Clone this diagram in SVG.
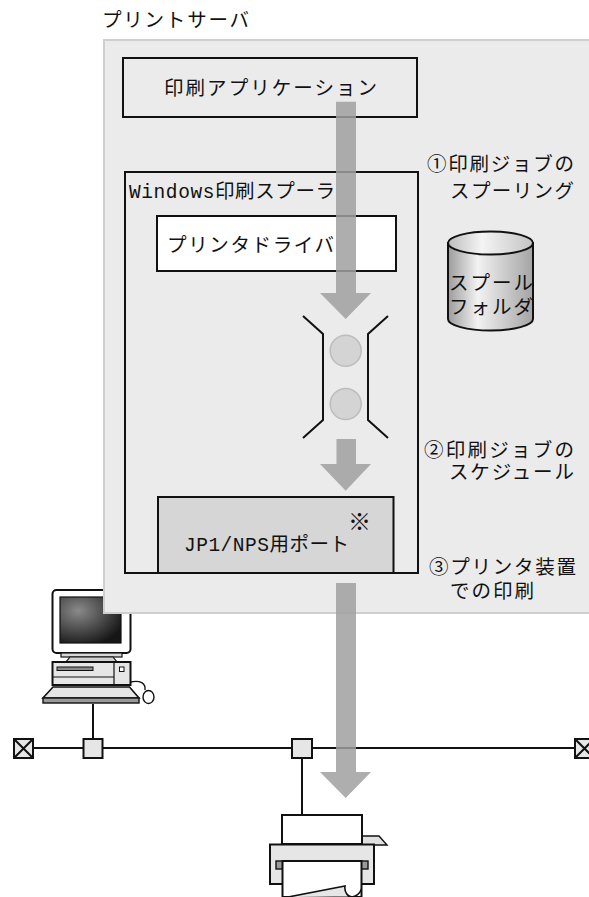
<svg xmlns="http://www.w3.org/2000/svg" width="589" height="897" viewBox="0 0 589 897">
  <style>
    .t { font-family: "Liberation Mono", "Noto Sans CJK JP", monospace; font-size: 19.5px; fill: #111; }
    .box { stroke: #111; stroke-width: 2; }
    .ln { stroke: #111; stroke-width: 2; fill: none; }
    .flow { fill: #a0a0a0; opacity: 0.85; }
  </style>
  <defs>
    <linearGradient id="cyl" x1="0" y1="0" x2="1" y2="0">
      <stop offset="0" stop-color="#9c9c9c"/>
      <stop offset="0.35" stop-color="#f2f2f2"/>
      <stop offset="1" stop-color="#a4a4a4"/>
    </linearGradient>
    <linearGradient id="cyltop" x1="0" y1="0" x2="1" y2="0">
      <stop offset="0" stop-color="#bdbdbd"/>
      <stop offset="0.4" stop-color="#f4f4f4"/>
      <stop offset="1" stop-color="#c4c4c4"/>
    </linearGradient>
    <radialGradient id="screen" cx="0.3" cy="0.3" r="0.8">
      <stop offset="0" stop-color="#8a8a8a"/>
      <stop offset="1" stop-color="#151515"/>
    </radialGradient>
  </defs>

  <!-- client PC -->
  <g id="client-pc">
    <rect x="52.5" y="590" width="78" height="63" rx="4" fill="#fff" class="box"/>
    <rect x="60" y="597" width="61" height="46" fill="url(#screen)" stroke="#111" stroke-width="1.2"/>
    <rect x="61" y="653" width="61" height="4" fill="#d8d8d8" stroke="#111" stroke-width="1.2"/>
    <polygon points="70,657 113,657 117,662 66,662" fill="#cfcfcf" stroke="#111" stroke-width="1.2"/>
    <rect x="52.5" y="662" width="78" height="23" fill="#e6e6e6" class="box"/>
    <line x1="52.5" y1="677" x2="114" y2="677" stroke="#111" stroke-width="1.2"/>
    <line x1="114" y1="662" x2="114" y2="685" stroke="#111" stroke-width="1.2"/>
    <rect x="57" y="667" width="36" height="3.5" fill="#8a8a8a" stroke="#111" stroke-width="1"/>
    <rect x="119.5" y="667" width="4.5" height="4.5" fill="#fff" stroke="#111" stroke-width="1"/>
    <polygon points="53,687 129.5,687 139,698 43,698" fill="#e6e6e6" stroke="#111" stroke-width="1.6"/>
    <rect x="43" y="698" width="96" height="5" fill="#9a9a9a" stroke="#111" stroke-width="1.4"/>
    <path d="M130.5,682 C140,680 146,683 145,690" fill="none" stroke="#111" stroke-width="1.4"/>
    <ellipse cx="148.5" cy="697" rx="5.5" ry="6.5" fill="#fff" stroke="#111" stroke-width="1.4"/>
  </g>

  <!-- print server panel -->
  <g id="print-server">
    <rect x="104" y="40" width="500" height="573" fill="#ebebeb" stroke="#cfcfcf" stroke-width="2"/>
    <text class="t" x="102" y="27" textLength="147" lengthAdjust="spacing">プリントサーバ</text>
  </g>

  <g id="print-application">
    <rect x="123" y="58" width="294" height="59" fill="#ebebeb" class="box"/>
    <text class="t" x="164" y="95" textLength="213" lengthAdjust="spacing">印刷アプリケーション</text>
  </g>

  <g id="windows-spooler">
    <rect x="125" y="172" width="293" height="401" fill="none" class="box"/>
    <text class="t" x="129" y="197.5" textLength="206" lengthAdjust="spacing">Windows印刷スプーラ</text>
  </g>

  <g id="printer-driver">
    <rect x="157" y="216" width="239" height="55" fill="#fff" class="box"/>
    <text class="t" x="167" y="251.5" textLength="167" lengthAdjust="spacing">プリンタドライバ</text>
  </g>

  <g id="spool-folder">
    <path d="M448,243 L448,319 A42.5,11.5 0 0 0 533,319 L533,243 Z" fill="url(#cyl)" class="box"/>
    <ellipse cx="490.5" cy="243" rx="42.5" ry="11.5" fill="url(#cyltop)" class="box"/>
    <text class="t" x="449" y="290" textLength="84" lengthAdjust="spacing">スプール</text>
    <text class="t" x="449" y="314" textLength="84" lengthAdjust="spacing">フォルダ</text>
  </g>

  <g id="job-queue">
    <polyline class="ln" points="303,316 323,334 323,420 303,438"/>
    <polyline class="ln" points="388,316 368,334 368,420 388,438"/>
    <circle cx="345.7" cy="350.7" r="15.5" fill="#d4d4d4" stroke="#bcbcbc" stroke-width="1.5"/>
    <circle cx="345.7" cy="404" r="15.5" fill="#d4d4d4" stroke="#bcbcbc" stroke-width="1.5"/>
  </g>

  <g id="nps-port">
    <rect x="158" y="497" width="235.5" height="76" fill="#d6d6d6" class="box"/>
    <text class="t" x="184" y="550.5" textLength="165" lengthAdjust="spacing">JP1/NPS用ポート</text>
    <text class="t" x="348" y="529.5" style="font-size:23px">※</text>
  </g>

  <!-- step labels -->
  <g id="step-labels">
    <text class="t" x="427" y="170.5" textLength="147" lengthAdjust="spacing">①印刷ジョブの</text>
    <text class="t" x="450" y="197.5" textLength="124" lengthAdjust="spacing">スプーリング</text>
    <text class="t" x="424" y="457" textLength="150" lengthAdjust="spacing">②印刷ジョブの</text>
    <text class="t" x="449" y="478.5" textLength="125" lengthAdjust="spacing">スケジュール</text>
    <text class="t" x="429" y="574" textLength="147" lengthAdjust="spacing">③プリンタ装置</text>
    <text class="t" x="450" y="598" textLength="84" lengthAdjust="spacing">での印刷</text>
  </g>

  <!-- network -->
  <g id="connectors">
    <line class="ln" x1="33" y1="748" x2="575" y2="748"/>
    <line class="ln" x1="93" y1="704" x2="93" y2="739"/>
    <line class="ln" x1="302" y1="758" x2="302" y2="815"/>
    <!-- print job flow -->
    <path class="flow" d="M336,101.7 H356 V293 H371 L345.7,319 L320,293 H336 Z"/>
    <path class="flow" d="M336.5,439 H356 V464 H371 L345.7,490.7 L320,464 H336.5 Z"/>
    <path class="flow" d="M336,583 H356 V772 H371 L345.7,798 L320,772 H336 Z"/>
  </g>

  <g id="terminator-left">
    <rect x="14" y="739" width="19" height="19" fill="#e6e6e6" class="box"/>
    <path class="ln" d="M14,739 L33,758 M33,739 L14,758" stroke-width="1.6"/>
  </g>
  <g id="terminator-right">
    <rect x="575" y="739" width="19" height="19" fill="#e6e6e6" class="box"/>
    <path class="ln" d="M575,739 L594,758 M594,739 L575,758" stroke-width="1.6"/>
  </g>
  <g id="hub-pc">
    <rect x="83.5" y="739" width="19" height="19" fill="#e6e6e6" class="box"/>
  </g>
  <g id="hub-printer">
    <rect x="292" y="739" width="20" height="19" fill="#e6e6e6" class="box"/>
  </g>

  <!-- printer -->
  <g id="printer">
    <polygon points="361,836 379,836 387,845 361,845" fill="#e0e0e0" stroke="#111" stroke-width="1.4"/>
    <rect x="282" y="815" width="80" height="29" fill="#fff" class="box"/>
    <rect x="270" y="844.5" width="104" height="39.5" fill="#e6e6e6" class="box"/>
    <rect x="276" y="861" width="92" height="8" fill="#9a9a9a" stroke="#111" stroke-width="1.4"/>
    <path d="M282.5,861 H361.5 V897 H282.5 Z" fill="#fff" stroke="#111" stroke-width="2"/>
    <path d="M283,898 L345,886 C344,892 348,897 352,897 L283,898 Z" fill="#e6e6e6" stroke="#111" stroke-width="1.6"/>
    <path d="M352,897 C357,896 360,893 361.5,889" fill="none" stroke="#111" stroke-width="1.6"/>
  </g>
</svg>
